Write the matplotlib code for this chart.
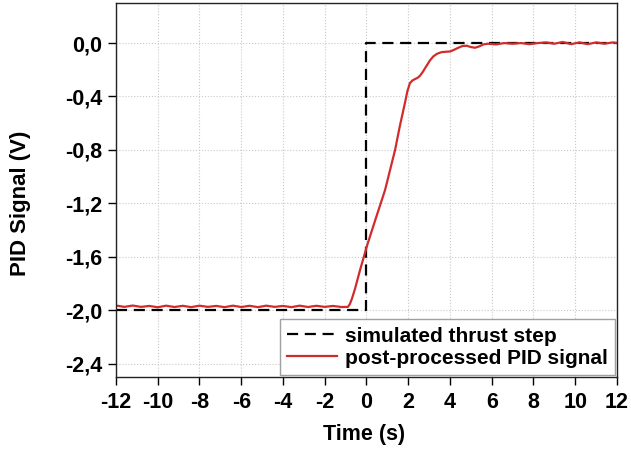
import numpy as np
import matplotlib
matplotlib.use('Agg')
import matplotlib.pyplot as plt
from matplotlib.ticker import FuncFormatter

# simulated thrust step
step_t = [-12.0, 0.0, 0.0, 12.0]
step_v = [-2.0, -2.0, 0.0, 0.0]

# post-processed PID signal
pid_t = [-12.0, -11.6, -11.2, -10.8, -10.4, -10.0, -9.6, -9.2, -8.8, -8.4,
         -8.0, -7.6, -7.2, -6.8, -6.4, -6.0, -5.6, -5.2, -4.8, -4.4,
         -4.0, -3.6, -3.2, -2.8, -2.4, -2.0, -1.6, -1.2, -0.89, -0.8,
         -0.7, -0.55, -0.31, 0.02, 0.41, 0.89, 1.37, 1.6, 1.84, 1.96,
         2.08, 2.2, 2.32, 2.45, 2.56, 2.68, 2.80, 2.92, 3.04, 3.2,
         3.38, 3.6, 3.8, 4.0, 4.2, 4.4, 4.6, 4.8, 5.0, 5.2,
         5.4, 5.6, 5.8, 6.2, 6.6, 7.0, 7.4, 7.8, 8.2, 8.6,
         9.0, 9.4, 9.8, 10.2, 10.6, 11.0, 11.4, 11.8, 12.0]
pid_v = [-1.965, -1.975, -1.965, -1.975, -1.968, -1.978, -1.966, -1.976, -1.967, -1.977,
         -1.966, -1.975, -1.968, -1.977, -1.966, -1.976, -1.967, -1.977, -1.966, -1.975,
         -1.968, -1.977, -1.966, -1.976, -1.967, -1.975, -1.968, -1.976, -1.975, -1.955,
         -1.915, -1.84, -1.70, -1.52, -1.33, -1.10, -0.80, -0.62, -0.45, -0.36,
         -0.30, -0.28, -0.27, -0.26, -0.245, -0.22, -0.19, -0.16, -0.13, -0.10,
         -0.08, -0.068, -0.065, -0.063, -0.05, -0.035, -0.022, -0.02, -0.03, -0.035,
         -0.025, -0.01, -0.005, -0.01, 0.0, -0.005, 0.0, -0.008, 0.0, 0.005,
         -0.005, 0.008, -0.008, 0.005, -0.008, 0.005, -0.005, 0.005, 0.0]

plt.rcParams['font.family'] = ['Liberation Sans', 'DejaVu Sans']
plt.rcParams['font.weight'] = 'bold'
plt.rcParams['axes.unicode_minus'] = False

fig = plt.figure(figsize=(6.31, 4.54), dpi=100)
ax = fig.add_axes([0.1838, 0.1696, 0.794, 0.8238])

ax.plot(step_t, step_v, '--', color='black', lw=1.6, dashes=(5, 3),
        label='simulated thrust step')
ax.plot(pid_t, pid_v, '-', color='#d02c2c', lw=1.6,
        label='post-processed PID signal')

ax.set_xlim(-12, 12)
ax.set_ylim(-2.5, 0.3)
ax.set_xticks(np.arange(-12, 13, 2))
ax.set_yticks([0.0, -0.4, -0.8, -1.2, -1.6, -2.0, -2.4])
ax.yaxis.set_major_formatter(FuncFormatter(lambda v, p: ('%.1f' % v).replace('.', ',')))
ax.grid(True, color='#c8c8c8', linestyle=':', linewidth=0.8)
ax.tick_params(direction='out', length=6, width=1, labelsize=15.5)
ax.tick_params(axis='x', pad=5)
ax.tick_params(axis='y', pad=4)
for sp in ax.spines.values():
    sp.set_linewidth(1.0)
    sp.set_color('#222222')

ax.set_xlabel('Time (s)', fontsize=15.5, fontweight='bold')
ax.set_ylabel('PID Signal (V)', fontsize=16, fontweight='bold')
ax.xaxis.set_label_coords(0.495, -0.125)
ax.yaxis.set_label_coords(-0.170, 0.465)

leg = ax.legend(loc='lower right', fontsize=15, fancybox=False, framealpha=1,
                edgecolor='#a0a0a0', borderaxespad=0.1, handlelength=2.4,
                handletextpad=0.35, borderpad=0.35, labelspacing=0.15)
leg.get_frame().set_linewidth(1.0)
for t in leg.get_texts():
    t.set_fontweight('bold')

fig.savefig('out.png', dpi=100)
